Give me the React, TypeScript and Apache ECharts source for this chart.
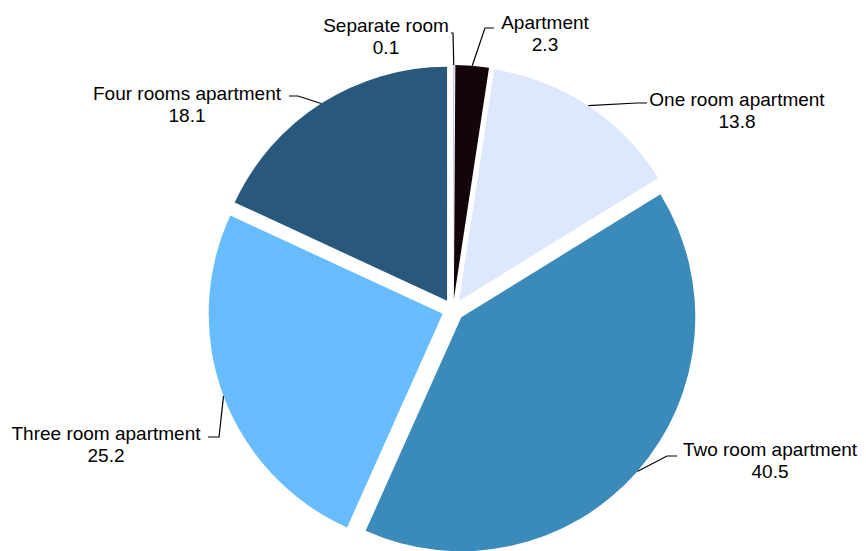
import React, { useEffect, useRef } from "react";
import * as echarts from "echarts";

const categories = [
  "Separate room",
  "Apartment",
  "One room apartment",
  "Two room apartment",
  "Three room apartment",
  "Four rooms apartment",
];
const values = [0.1, 2.3, 13.8, 40.5, 25.2, 18.1];
const colors = ["#c9c4df", "#14050c", "#dde8fc", "#3a8bba", "#66bcfd", "#28587c"];

// label placement (text block centre) and leader-line bend/end points
const labelCenters: [number, number][] = [
  [386, 36],
  [545, 33],
  [737, 110],
  [770, 460],
  [106, 444],
  [187, 104],
];
const leaderBends: [number, number][][] = [
  [[453, 33], [451, 33]],
  [[485, 28], [494, 28]],
  [[637, 103], [647, 103]],
  [[667, 456], [677, 456]],
  [[219, 437], [208, 437]],
  [[298, 96], [289, 96]],
];

const BASE_CENTER = [453, 310];
const RADIUS = 234;
const EXPLODE = 11;

export default function App() {
  const ref = useRef<HTMLDivElement>(null);
  useEffect(() => {
    if (!ref.current) return;
    const chart = echarts.init(ref.current, undefined, { renderer: "svg" });
    const total = values.reduce((a, b) => a + b, 0);
    let cum = 0;
    const series = categories.map((cat, i) => {
      const midFrac = (cum + values[i] / 2) / total;
      cum += values[i];
      const mid = ((90 - midFrac * 360) * Math.PI) / 180;
      const cx = BASE_CENTER[0] + EXPLODE * Math.cos(mid);
      const cy = BASE_CENTER[1] - EXPLODE * Math.sin(mid);
      return {
        type: "pie",
        name: cat,
        center: [cx, cy],
        radius: RADIUS,
        startAngle: 90,
        clockwise: true,
        avoidLabelOverlap: false,
        emphasis: { disabled: true },
        silent: true,
        data: categories.map((name, j) => ({
          name,
          value: values[j],
          itemStyle: { color: j === i ? colors[j] : "rgba(0,0,0,0)" },
          label: { show: j === i },
          labelLine: { show: j === i },
        })),
        label: {
          position: "outside",
          formatter: "{b}\n{c}",
          fontFamily: "Liberation Sans, Arial, sans-serif",
          fontSize: 19,
          lineHeight: 22,
          color: "#000000",
          align: "center",
        },
        labelLine: {
          length: 10,
          length2: 10,
          lineStyle: { color: "#000000", width: 1.2 },
        },
        labelLayout: (params: any) => {
          const k = params.dataIndex;
          const start =
            params.labelLinePoints && params.labelLinePoints[0]
              ? params.labelLinePoints[0]
              : leaderBends[k][0];
          return {
            x: labelCenters[k][0],
            y: labelCenters[k][1],
            align: "center",
            verticalAlign: "middle",
            labelLinePoints: [start, leaderBends[k][0], leaderBends[k][1]],
          };
        },
      };
    });
    chart.setOption({
      animation: false,
      backgroundColor: "#ffffff",
      series,
    });
    return () => chart.dispose();
  }, []);
  return (
    <div
      ref={ref}
      style={{ position: "fixed", left: 0, top: 0, width: 866, height: 551 }}
    />
  );
}
